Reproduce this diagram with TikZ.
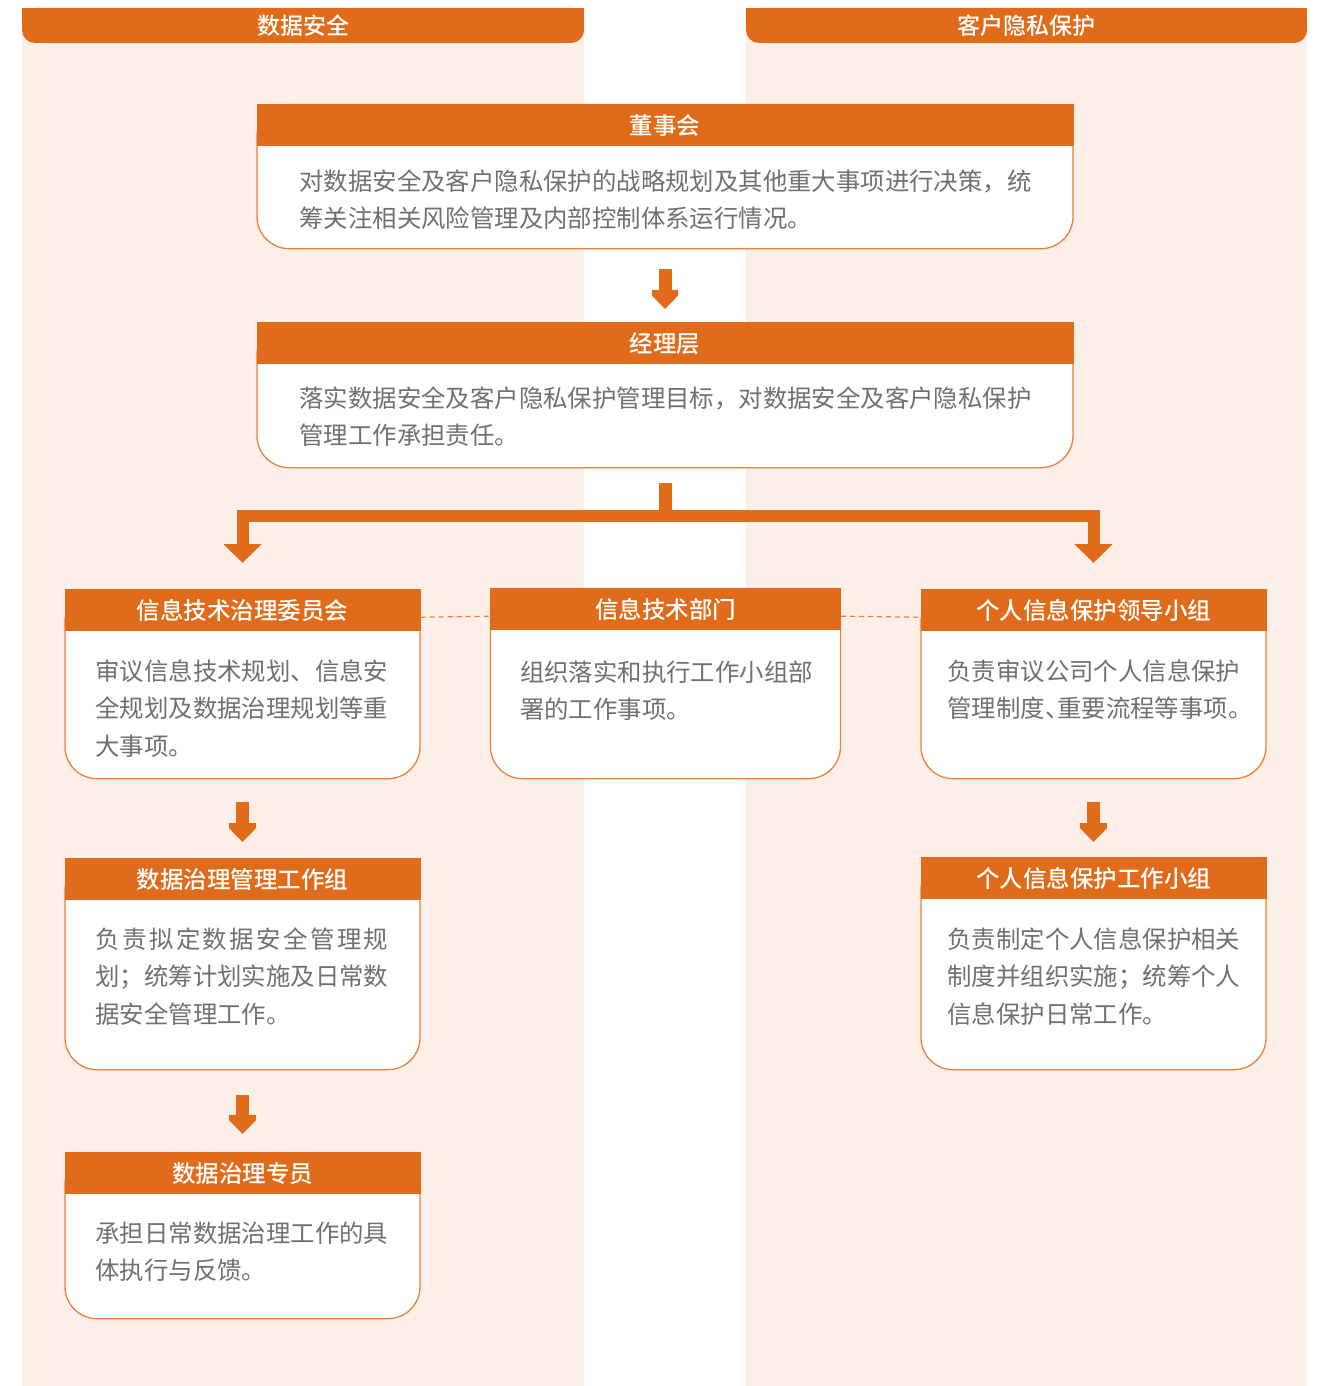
\documentclass[tikz,border=0pt]{standalone}
\usepackage{fontspec}
\setmainfont{Noto Sans CJK SC}
\newfontfamily\medfont{Noto Sans CJK SC Medium}
\usetikzlibrary{positioning, arrows.meta, fadings}

\definecolor{hdorange}{RGB}{224,107,26}
\definecolor{lineorange}{RGB}{233,130,56}
\definecolor{peach}{RGB}{252,239,231}
\definecolor{bodygray}{RGB}{112,112,112}

% fade out the top of the arrow shafts
\pgfdeclareverticalshading{shaftshade}{100bp}{color(0bp)=(white); color(68bp)=(white); color(100bp)=(black)}
\pgfdeclarefading{shaftfade}{\pgfuseshading{shaftshade}}

\tikzset{
  colbar/.style={fill=hdorange, text=white, minimum height=35pt, inner sep=0pt,
    rounded corners=13pt, font=\fontsize{23}{26}\selectfont\medfont},
  cardbody/.style={draw=lineorange, line width=1.3pt, fill=white, rounded corners=32pt,
    anchor=north, inner sep=0pt},
  cardhead/.style={fill=hdorange, text=white, minimum height=42pt, inner sep=0pt,
    anchor=north, font=\fontsize{23.5}{26}\selectfont\medfont},
  cardtext/.style={inner sep=0pt, align=left, text=bodygray,
    font=\fontsize{24.4}{37.5}\selectfont},
  fatarrow/.style={hdorange, line width=13pt, -{Triangle[length=19pt, width=36pt]},
    path fading=shaftfade},
  branch/.style={hdorange, line width=12pt, line join=miter, -{Triangle[length=19pt, width=37pt]}},
  linkdash/.style={lineorange, line width=1.2pt, dash pattern=on 5pt off 4pt}
}

\begin{document}
\begin{tikzpicture}[x=1pt, y=-1pt]
    \useasboundingbox (0,0) rectangle (1342,1386);

    % Define columns
    \fill[peach] (22,8) rectangle (584,1386);
    \fill[peach] (746,8) rectangle (1307,1386);
    \fill[hdorange] (22,8) rectangle (584,26);
    \fill[hdorange] (746,8) rectangle (1307,26);
    \node[colbar, minimum width=562pt] (ds) at (303,25.5) {数据安全};
    \node[colbar, minimum width=561pt] (kh) at (1026.5,25.5) {客户隐私保护};

    % Define cards
    \node[cardbody, minimum width=816pt, minimum height=144pt] (dsh) at (665,104) {};
    \node[cardhead, minimum width=817pt] (dsh-h) at (dsh.north) {董事会};
    \node[cardtext, below right=23pt and 43pt of dsh-h.south west] (dsh-t)
        {对数据安全及客户隐私保护的战略规划及其他重大事项进行决策，统\\筹关注相关风险管理及内部控制体系运行情况。};

    \node[cardbody, minimum width=816pt, minimum height=145pt] (jl) at (665,322) {};
    \node[cardhead, minimum width=817pt] (jl-h) at (jl.north) {经理层};
    \node[cardtext, below right=22pt and 43pt of jl-h.south west] (jl-t)
        {落实数据安全及客户隐私保护管理目标，对数据安全及客户隐私保护\\管理工作承担责任。};

    \node[cardbody, minimum width=355pt, minimum height=189pt] (itc) at (242.5,589) {};
    \node[cardhead, minimum width=356pt] (itc-h) at (itc.north) {信息技术治理委员会};
    \node[cardtext, below right=28pt and 31pt of itc-h.south west] (itc-t)
        {审议信息技术规划、信息安\\全规划及数据治理规划等重\\大事项。};

    \node[cardbody, minimum width=350pt, minimum height=190pt] (itd) at (665.5,588) {};
    \node[cardhead, minimum width=351pt] (itd-h) at (itd.north) {信息技术部门};
    \node[cardtext, below right=30pt and 30pt of itd-h.south west] (itd-t)
        {组织落实和执行工作小组部\\署的工作事项。};

    \node[cardbody, minimum width=345pt, minimum height=189pt] (pil) at (1093.5,589) {};
    \node[cardhead, minimum width=346pt] (pil-h) at (pil.north) {个人信息保护领导小组};
    \node[cardtext, below right=28pt and 27pt of pil-h.south west] (pil-t)
        {负责审议公司个人信息保护\\管理制度\makebox[0.5em][l]{、}重要流程等事项。};

    \node[cardbody, minimum width=355pt, minimum height=211pt] (dgw) at (242.5,858) {};
    \node[cardhead, minimum width=356pt] (dgw-h) at (dgw.north) {数据治理管理工作组};
    \node[cardtext, below right=27pt and 31pt of dgw-h.south west] (dgw-t)
        {\hbox to 12em{负\hfill 责\hfill 拟\hfill 定\hfill 数\hfill 据\hfill 安\hfill 全\hfill 管\hfill 理\hfill 规}\\划；统筹计划实施及日常数\\据安全管理工作。};

    \node[cardbody, minimum width=345pt, minimum height=212pt] (piw) at (1093.5,857) {};
    \node[cardhead, minimum width=346pt] (piw-h) at (piw.north) {个人信息保护工作小组};
    \node[cardtext, below right=28pt and 27pt of piw-h.south west] (piw-t)
        {负责制定个人信息保护相关\\制度并组织实施；统筹个人\\信息保护日常工作。};

    \node[cardbody, minimum width=355pt, minimum height=166pt] (dgs) at (242.5,1152) {};
    \node[cardhead, minimum width=356pt] (dgs-h) at (dgs.north) {数据治理专员};
    \node[cardtext, below right=27pt and 31pt of dgs-h.south west] (dgs-t)
        {承担日常数据治理工作的具\\体执行与反馈。};

    % Define links
    \draw[fatarrow] ([yshift=-20pt]dsh.south) -- ([yshift=13pt]jl-h.north);
    \draw[fatarrow] ([yshift=-23pt]itc.south) -- ([yshift=16pt]dgw-h.north);
    \draw[fatarrow] ([yshift=-25pt]dgw.south) -- ([yshift=18pt]dgs-h.north);
    \draw[fatarrow] ([yshift=-23pt]pil.south) -- ([yshift=15pt]piw-h.north);

    \coordinate (fork) at ([yshift=-48pt]jl.south);
    \draw[hdorange, line width=13pt, path fading=shaftfade] ([yshift=-15pt]jl.south) -- ([yshift=-6pt]fork);
    \draw[branch] (fork) -| ([yshift=26pt]itc-h.north);
    \draw[branch] (fork) -| ([yshift=26pt]pil-h.north);

    \draw[linkdash] ([yshift=-7pt]itc-h.east) -- ([yshift=-7pt]itd-h.west);
    \draw[linkdash] ([yshift=-7pt]itd-h.east) -- ([yshift=-7pt]pil-h.west);
\end{tikzpicture}
\end{document}
